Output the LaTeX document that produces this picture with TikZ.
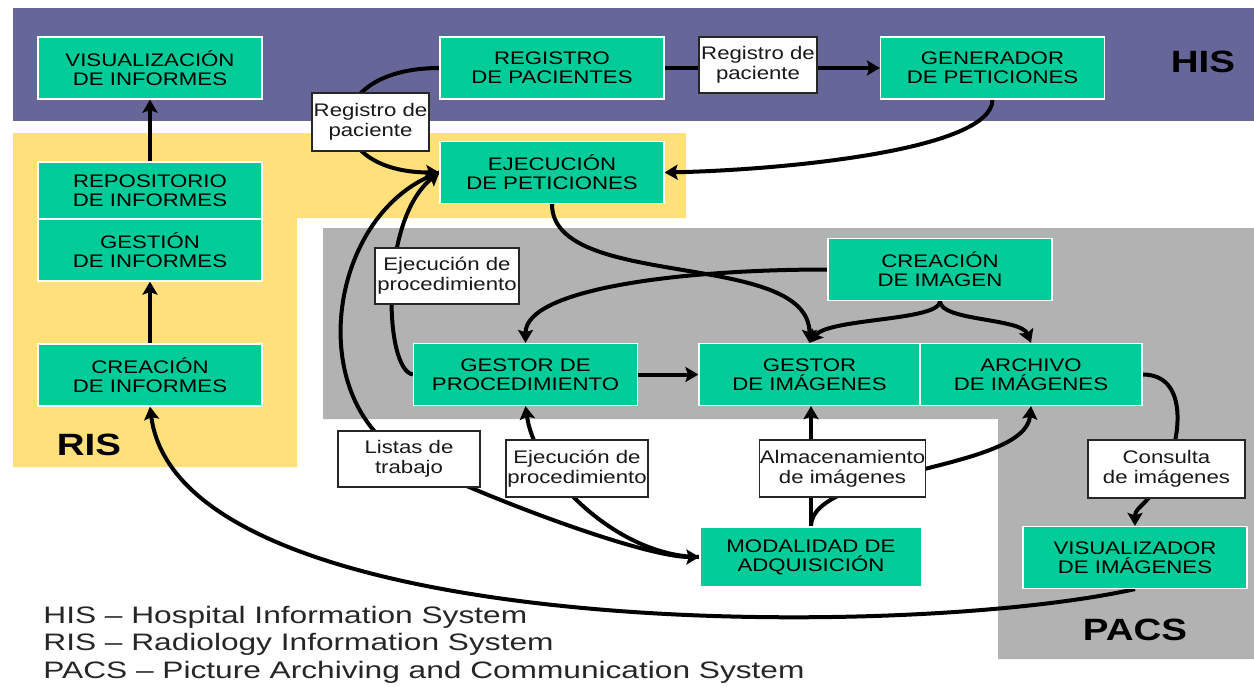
\documentclass[tikz,border=0pt]{standalone}
\usepackage{fontspec}
\usepackage{tikz}
\usetikzlibrary{arrows.meta}

\newfontfamily\boxfont[FakeStretch=1.22]{Liberation Sans}
\newfontfamily\zonefont[FakeStretch=1.25]{Liberation Sans}
\newfontfamily\legfont[FakeStretch=1.33]{Liberation Sans}

\definecolor{hispurple}{RGB}{102,102,153}
\definecolor{risyellow}{RGB}{255,224,122}
\definecolor{pacsgray}{RGB}{178,178,178}
\definecolor{boxgreen}{RGB}{0,204,153}

\pgfdeclarelayer{back}
\pgfdeclarelayer{wires}
\pgfsetlayers{back,wires,main}

\tikzset{
	box/.style={draw=white, line width=0.6pt, fill=boxgreen, text=black, align=center, inner sep=0pt,
		minimum width=112pt, minimum height=31pt, font=\boxfont\fontsize{9.1}{9.6}\selectfont},
	tag/.style={draw=black!85, line width=0.6pt, fill=white, text=black!90, align=center, inner sep=0pt,
		minimum height=28.5pt, font=\boxfont\fontsize{9.1}{10}\selectfont},
	zone/.style={text=black, font=\zonefont\bfseries\fontsize{15.4}{16}\selectfont},
	legend/.style={text=black!85, anchor=base west, inner sep=0pt, font=\legfont\fontsize{11.9}{12}\selectfont},
	link/.style={line width=2pt, -{Stealth[length=6.5pt,width=7.5pt,inset=1.2pt]}}
}

\begin{document}
\begin{tikzpicture}[x=0.5pt,y=0.5pt,yscale=-1]
	\useasboundingbox (0,0) rectangle (1254,686);
	
	%Regions
	\begin{pgfonlayer}{back}
	\fill[hispurple] (13,8) rectangle (1254,121);
	\fill[risyellow] (13,133) -- (686,133) -- (686,218) -- (297,218) -- (297,467) -- (13,467) -- cycle;
	\fill[pacsgray] (323,228) -- (1254,228) -- (1254,659) -- (998,659) -- (998,419) -- (323,419) -- cycle;
	\end{pgfonlayer}
	
	\node[zone] (his) at (1203,62) {HIS};
	\node[zone] (ris) at (89,445) {RIS};
	\node[zone] (pacs) at (1135,630) {PACS};
	
	%Green boxes
	\node[box] (visinf) at (150,68) {VISUALIZACIÓN\\DE INFORMES};
	\node[box, minimum height=28.5pt] (repinf) at (150,190.5) {REPOSITORIO\\DE INFORMES};
	\node[box] (gesinf) at (150,250) {GESTIÓN\\DE INFORMES};
	\node[box] (creinf) at (150,375) {CREACIÓN\\DE INFORMES};
	\node[box] (regpac) at (552,68) {REGISTRO\\DE PACIENTES};
	\node[box] (genpet) at (992.5,68) {GENERADOR\\DE PETICIONES};
	\node[box] (ejepet) at (552,172.5) {EJECUCIÓN\\DE PETICIONES};
	\node[box] (creimg) at (940,269.5) {CREACIÓN\\DE IMAGEN};
	\node[box] (gesproc) at (525.5,374.5) {GESTOR DE\\PROCEDIMIENTO};
	\node[box, minimum width=110.5pt] (gesimg) at (809.5,374.5) {GESTOR\\DE IMÁGENES};
	\node[box, minimum width=111pt] (arcimg) at (1031,374.5) {ARCHIVO\\DE IMÁGENES};
	\node[box, minimum width=111pt, minimum height=30pt] (modadq) at (811,557) {MODALIDAD DE\\ADQUISICIÓN};
	\node[box] (visimg) at (1135,557.5) {VISUALIZADOR\\DE IMÁGENES};
	
	%Labels on the connectors
	\node[tag, minimum width=58.5pt, minimum height=29pt] (regizq) at (370.5,122) {Registro de\\paciente};
	\node[tag, minimum width=59pt, minimum height=28pt] (regder) at (758,65) {Registro de\\paciente};
	\node[tag, minimum width=72pt, minimum height=28pt] (ejesup) at (447,276) {Ejecución de\\procedimiento};
	\node[tag, minimum width=71pt, minimum height=28pt] (listas) at (409,459) {Listas de\\trabajo};
	\node[tag, minimum width=71pt] (ejeinf) at (577,468.5) {Ejecución de\\procedimiento};
	\node[tag, minimum width=78.5pt] (almac) at (842.5,468.5) {Almacenamiento\\de imágenes};
	\node[tag, minimum width=78.5pt, minimum height=29pt] (consul) at (1166.5,469) {Consulta\\de imágenes};
	
	%Connectors
	\begin{pgfonlayer}{wires}
	\draw[link] (creinf) -- (gesinf);
	\draw[link] (repinf) -- (visinf);
	\draw[link] (regpac) -- (genpet);
	\draw[link] (regpac.west) .. controls +(-120,0) and +(-120,0) .. (ejepet.west);
	\draw[link] (genpet.south) .. controls +(0,51) and +(116,-2.5) .. (ejepet.east);
	\draw[link] (gesproc.west) .. controls +(-29,-4.5) and +(-60,47.5) .. (ejepet.west);
	\draw[link] (ejepet.west) .. controls +(-110,37.5) and +(-109,-59) .. (listas.center)
		.. controls +(55,30) and +(-60,0) .. (modadq.west);
	\draw[link] (modadq.west) .. controls +(-80,0) and +(10,70) .. (gesproc.south);
	\draw[link] (ejepet.south) .. controls +(0,87) and +(0,-94) .. (gesimg.north);
	\draw[link] (creimg.west) .. controls +(-148,0) and +(0,-54) .. (gesproc.north);
	\draw[link] (creimg.south) .. controls +(0,20) and +(20,-25) .. (gesimg.north);
	\draw[link] (creimg.south) .. controls +(0,20) and +(-10,-25) .. (arcimg.north);
	\draw[link] (gesproc) -- (gesimg);
	\draw[link] (modadq.north) -- (modadq.north |- gesimg.south);
	\draw[link] (modadq.north) .. controls +(0,-57) and +(-6,65) .. (arcimg.south);
	\draw[link] (arcimg.east) .. controls +(45,0) and +(15,-35) .. (consul.center)
		.. controls +(-15,35) and +(0,-20) .. (visimg.north);
	\draw[link] (visimg.south) .. controls +(-235,52) and +(30,234) .. (creinf.south);
	\end{pgfonlayer}
	
	%Legend
	\node[legend] (leghis) at (43,623) {HIS – Hospital Information System};
	\node[legend] (legris) at (43,650) {RIS – Radiology Information System};
	\node[legend] (legpacs) at (43,678) {PACS – Picture Archiving and Communication System};
\end{tikzpicture}
\end{document}
